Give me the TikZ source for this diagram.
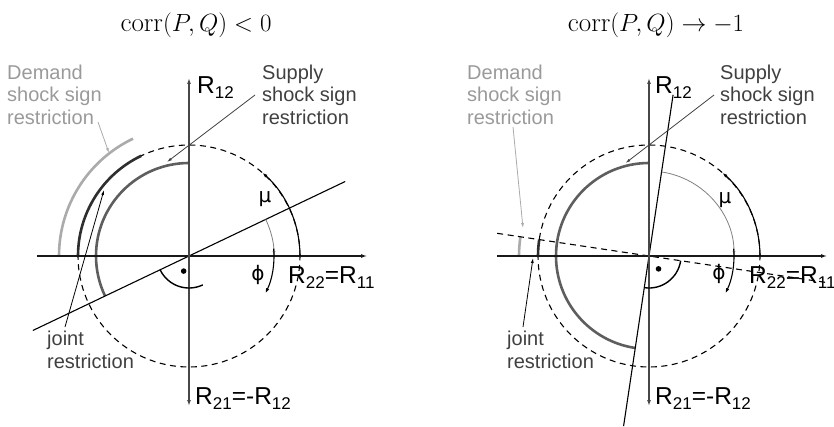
\documentclass[tikz,border=0pt]{standalone}
\usepackage{fontspec}
\newfontfamily\arialf{Liberation Sans}
\newfontfamily\dejavuf{DejaVu Sans}
\usetikzlibrary{arrows.meta}
\definecolor{demandc}{HTML}{ABABAB}
\definecolor{demandt}{HTML}{9A9A9A}
\definecolor{supplyc}{HTML}{5E5E5E}
\definecolor{supplyt}{HTML}{404040}
\definecolor{jointc}{HTML}{2E2E2E}
\definecolor{jointt}{HTML}{404040}
\newcommand\Rs[1]{R\raisebox{-5pt}{\fontsize{17}{17}\selectfont #1}}
\begin{document}
\begin{tikzpicture}[x=1pt,y=1pt,
  haxis/.style={line width=1.1pt, black!90, -{Latex[length=6pt,width=4pt]}},
  vaxis/.style={line width=1.2pt, black!72, {Latex[length=6pt,width=4pt]}-{Latex[length=6pt,width=4pt]}},
  circ/.style={line width=1.1pt, dash pattern=on 6pt off 4.5pt},
  thickarc/.style={line width=2.6pt},
  thinline/.style={line width=1.1pt},
  ptr/.style={line width=0.8pt, -{Latex[length=5pt,width=3pt]}},
  lbl/.style={font=\arialf\fontsize{20}{22.3}\selectfont, align=left, inner sep=0pt, anchor=north west},
  rlbl/.style={font=\arialf\fontsize{24.5}{28}\selectfont, inner sep=0pt, anchor=base west},
  glbl/.style={font=\dejavuf\fontsize{20}{20}\selectfont, inner sep=0pt},
  ttl/.style={font=\fontsize{27}{31}\selectfont, inner sep=0pt, anchor=base},
]
\useasboundingbox (0,0) rectangle (834,426);

% titles
\node[ttl] (t1) at (196,394) {$\mathrm{corr}(P,Q)<0$};
\node[ttl] (t2) at (656,394) {$\mathrm{corr}(P,Q)\to-1$};

% ---------------- left diagram ----------------
\begin{scope}[shift={(189,170)}]
\def\th{25.5}
\draw[circ] (0,0) circle (111);
\draw[thickarc, demandc] ({\th+90}:130) arc[start angle=\th+90, end angle=180, radius=130];
\draw[thickarc, jointc] ({\th+90}:111) arc[start angle=\th+90, end angle=180, radius=111];
\draw[thickarc, supplyc] (90:93) arc[start angle=90, end angle=\th+180, radius=93];
\draw[thinline] (\th:173) -- ({\th+180}:173);
\draw[haxis] (-152,0) -- (178,0);
\draw[vaxis] (0,-150) -- (0,178);
\draw[thinline, -{Latex[length=5pt,width=3.5pt]}] (0:111) arc[start angle=0, end angle=48.5, radius=111];
\draw[line width=0.8pt, black!50, -{Latex[length=5pt,width=3pt]}] (\th:85) arc[start angle=\th, end angle=0, radius=85];
\draw[thinline, -{Latex[length=5pt,width=3.5pt]}] (5:85) arc[start angle=5, end angle=-26, radius=85];
\draw[line width=1.4pt] ({\th+180}:32) arc[start angle=\th+180, end angle=\th+270, radius=32];
\fill ({\th+225}:16) circle (2.8);
\node[rlbl] (r12a) at (8,162) {\Rs{12}};
\node[rlbl] (r22a) at (99,-27) {\Rs{22}=\Rs{11}};
\node[rlbl] (r21a) at (6,-148) {\Rs{21}=-\Rs{12}};
\node[glbl] (mua) at (76,57) {μ};
\node[glbl] (phia) at (69,-19) {ϕ};
\coordinate (sa1) at (66,161);
\coordinate (se1) at (-22,94);
\coordinate (da1) at (-91,134);
\coordinate (de1) at (-80,103);
\coordinate (ja1) at (-124,-71);
\coordinate (je1) at (-85,66);
\end{scope}
\node[lbl, text=demandt] (dem1) at (7,361) {Demand\\shock sign\\restriction};
\node[lbl, text=supplyt] (sup1) at (262,361) {Supply\\shock sign\\restriction};
\node[lbl, text=jointt] (joi1) at (47,94.7) {joint\\restriction};
\draw[ptr, supplyt] (sa1) -- (se1);
\draw[ptr, demandc] (da1) -- (de1);
\draw[ptr, black] (ja1) -- (je1);

% ---------------- right diagram ----------------
\begin{scope}[shift={(649,170)}]
\def\th{81.5}
\draw[circ] (0,0) circle (111);
\draw[thickarc, demandc] ({\th+90}:130) arc[start angle=\th+90, end angle=180, radius=130];
\draw[thickarc, jointc] ({\th+90}:111) arc[start angle=\th+90, end angle=180, radius=111];
\draw[thickarc, supplyc] (90:93) arc[start angle=90, end angle=\th+180, radius=93];
\draw[thinline] (\th:163) -- ({\th+180}:172);
\draw[thinline, dash pattern=on 6pt off 4.5pt] ({\th-90}:178) -- ({\th+90}:157);
\draw[haxis] (-152,0) -- (178,0);
\draw[vaxis] (0,-150) -- (0,178);
\draw[thinline, -{Latex[length=5pt,width=3.5pt]}] (0:111) arc[start angle=0, end angle=48.5, radius=111];
\draw[line width=0.8pt, black!50, -{Latex[length=5pt,width=3pt]}] (\th:85) arc[start angle=\th, end angle=0, radius=85];
\draw[thinline, -{Latex[length=5pt,width=3.5pt]}] (5:85) arc[start angle=5, end angle=-26, radius=85];
\draw[line width=1.4pt] ({\th+180}:32) arc[start angle=\th+180, end angle=\th+270, radius=32];
\fill ({\th+225}:16) circle (2.8);
\node[rlbl] (r12b) at (6,162) {\Rs{12}};
\node[rlbl] (r22b) at (100,-27) {\Rs{22}=\Rs{11}};
\node[rlbl] (r21b) at (6,-148) {\Rs{21}=-\Rs{12}};
\node[glbl] (mub) at (76,56) {μ};
\node[glbl] (phib) at (70,-18) {ϕ};
\coordinate (sa2) at (65,161);
\coordinate (se2) at (-23.4,93);
\coordinate (da2) at (-136,129);
\coordinate (de2) at (-126,28);
\coordinate (ja2) at (-126,-71);
\coordinate (je2) at (-116,-2);
\end{scope}
\node[lbl, text=demandt] (dem2) at (467,361) {Demand\\shock sign\\restriction};
\node[lbl, text=supplyt] (sup2) at (720,361) {Supply\\shock sign\\restriction};
\node[lbl, text=jointt] (joi2) at (507,94.7) {joint\\restriction};
\draw[ptr, supplyt] (sa2) -- (se2);
\draw[ptr, demandc] (da2) -- (de2);
\draw[ptr, black] (ja2) -- (je2);
\end{tikzpicture}
\end{document}
